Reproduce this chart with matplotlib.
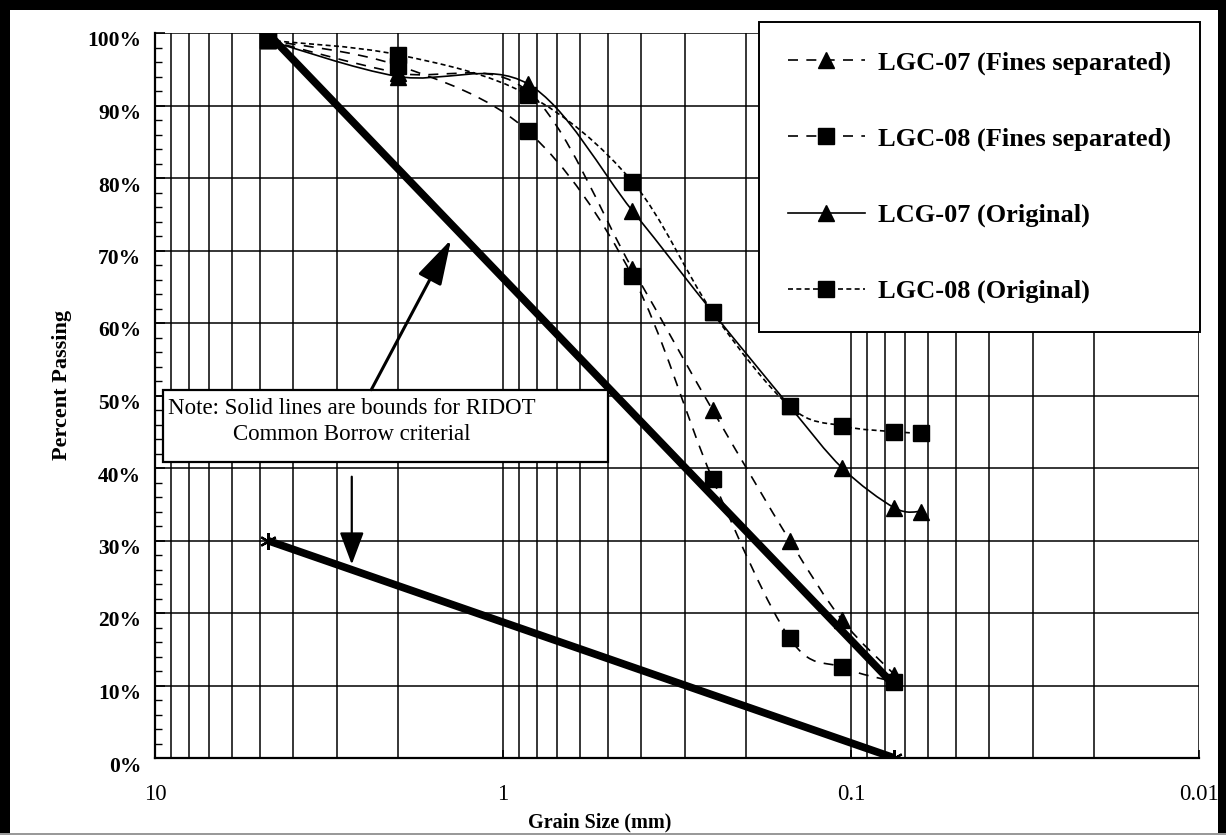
import numpy as np
import matplotlib
matplotlib.use("Agg")
import matplotlib.pyplot as plt
from matplotlib.path import Path
from matplotlib.patches import PathPatch, Rectangle, ArrowStyle
from matplotlib.lines import Line2D
from matplotlib.transforms import ScaledTranslation
from matplotlib.ticker import FixedLocator, FuncFormatter, MultipleLocator, PercentFormatter, NullFormatter

plt.rcParams['font.family'] = ['Liberation Serif', 'DejaVu Serif']

# Sieve openings (mm)
sieve_mm = [4.75, 2.0, 0.85, 0.425, 0.25, 0.15, 0.106, 0.075, 0.063]

# Percent passing for each sample
lgc07_fines = [99, 94.5, 92, 67.5, 48, 30, 19, 11.5]
lgc08_fines = [99, 95.5, 86.5, 66.5, 38.5, 16.5, 12.5, 10.5]
lcg07_orig = [99, 94, 93, 75.5, 61.5, 48.5, 40, 34.5, 34]
lgc08_orig = [99, 97, 91.5, 79.5, 61.5, 48.5, 45.8, 45, 44.8]

# RIDOT common borrow gradation bounds
bound_mm = [4.75, 0.075]
upper_bound = [100, 10]
lower_bound = [30, 0]

series_labels = ["LGC-07 (Fines separated)", "LGC-08 (Fines separated)",
                 "LCG-07 (Original)", "LGC-08 (Original)"]

x_ticks = [10, 1, 0.1, 0.01]
x_tick_labels = ["10", "1", "0.1", "0.01"]

note_text = "Note: Solid lines are bounds for RIDOT\nCommon Borrow criterial"


def smooth_path(xs, ys):
    """Bezier path through the points, smoothed like a spreadsheet chart line."""
    u = np.log10(np.asarray(xs, float))
    v = np.asarray(ys, float)
    n = len(u)
    verts = [(xs[0], ys[0])]
    codes = [Path.MOVETO]
    for i in range(n - 1):
        up, vp = (u[i - 1], v[i - 1]) if i > 0 else (u[i], v[i])
        un, vn = (u[i + 2], v[i + 2]) if i + 2 < n else (u[i + 1], v[i + 1])
        c1 = (u[i] + (u[i + 1] - up) / 6.0, v[i] + (v[i + 1] - vp) / 6.0)
        c2 = (u[i + 1] - (un - u[i]) / 6.0, v[i + 1] - (vn - v[i]) / 6.0)
        verts += [(10 ** c1[0], c1[1]), (10 ** c2[0], c2[1]), (xs[i + 1], ys[i + 1])]
        codes += [Path.CURVE4] * 3
    return Path(verts, codes)


W, H = 1226, 835
fig = plt.figure(figsize=(W / 100, H / 100), dpi=100)
fig.patch.set_facecolor('white')
ax = fig.add_axes([155 / W, 1 - 758 / H, (1199 - 155) / W, (758 - 33) / H])

ax.set_xscale('log')
ax.set_xlim(10, 0.01)
ax.set_ylim(0, 100)

# grid
ax.xaxis.set_major_locator(FixedLocator(x_ticks))
ax.xaxis.set_major_formatter(FuncFormatter(lambda v, p: x_tick_labels[x_ticks.index(v)] if v in x_ticks else ""))
ax.xaxis.set_minor_locator(FixedLocator([m * d for d in (1, 0.1, 0.01) for m in range(2, 10)]))
ax.xaxis.set_minor_formatter(NullFormatter())
ax.yaxis.set_major_locator(MultipleLocator(10))
ax.yaxis.set_minor_locator(MultipleLocator(2))
ax.yaxis.set_major_formatter(PercentFormatter(100, decimals=0))

ax.grid(True, which='both', axis='x', color='black', lw=1.1)
ax.grid(True, which='major', axis='y', color='black', lw=1.1)
ax.get_ygridlines()[-1].set_visible(False)

for s in ('top', 'right'):
    ax.spines[s].set_visible(False)
for s in ('left', 'bottom'):
    ax.spines[s].set_linewidth(1.6)

ax.tick_params(axis='x', which='major', direction='in', length=6, width=1.2, pad=19, labelsize=16.5)
ax.tick_params(axis='x', which='minor', length=0)
ax.tick_params(axis='y', which='major', direction='in', length=7, width=1.2, pad=10, labelsize=15.5)
ax.tick_params(axis='y', which='minor', direction='in', length=5, width=1.0)

# y labels sit slightly below their grid lines
shift = ScaledTranslation(0, -6 / 100, fig.dpi_scale_trans)
for lab in ax.get_yticklabels():
    lab.set_fontweight('bold')
    lab.set_transform(lab.get_transform() + shift)

dash = (0, (6, 5))
fine_dash = (0, (3, 2))
ms = 11

# sample curves
curves = [
    (sieve_mm[:len(lgc07_fines)], lgc07_fines, dash, '^'),
    (sieve_mm[:len(lgc08_fines)], lgc08_fines, dash, 's'),
    (sieve_mm, lcg07_orig, '-', '^'),
    (sieve_mm, lgc08_orig, fine_dash, 's'),
]
for xs, ys, ls, mk in curves:
    ax.add_patch(PathPatch(smooth_path(xs, ys), fill=False, edgecolor='black',
                           lw=1.2, linestyle=ls, zorder=3))
for xs, ys, ls, mk in curves:
    ax.plot(xs, ys, linestyle='none', marker=mk, ms=ms, color='black', zorder=4)

# bounds
ax.plot(bound_mm, upper_bound, color='black', lw=5.5, solid_capstyle='round', zorder=5)
ax.plot(bound_mm, lower_bound, color='black', lw=5.5, solid_capstyle='butt', zorder=5,
        marker=(6, 2, 0), ms=12, mew=1.6)

# note and arrows
ax.add_patch(Rectangle((0.499, 40.8), 9.48 - 0.499, 10.0, facecolor='white',
                       edgecolor='black', lw=1.6, zorder=6))
ax.text(9.15, 46.4, note_text, ha='left', va='center', multialignment='center',
        fontsize=16.5, linespacing=1.3, zorder=7)
ax.annotate('', xy=(1.41, 71.5), xytext=(2.39, 50.8),
            arrowprops=dict(arrowstyle=ArrowStyle('-|>', head_length=2.8, head_width=0.8),
                            mutation_scale=10, lw=2.2, color='black', shrinkA=0, shrinkB=0),
            zorder=7)
ax.annotate('', xy=(2.72, 26.7), xytext=(2.72, 38.8),
            arrowprops=dict(arrowstyle=ArrowStyle('-|>', head_length=2.0, head_width=0.75),
                            mutation_scale=10, lw=1.6, color='black', shrinkA=0, shrinkB=0),
            zorder=7)

# legend
handles = [
    Line2D([], [], color='black', lw=1.2, ls=dash, marker='^', ms=ms),
    Line2D([], [], color='black', lw=1.2, ls=dash, marker='s', ms=ms),
    Line2D([], [], color='black', lw=1.2, ls='-', marker='^', ms=ms),
    Line2D([], [], color='black', lw=1.2, ls=fine_dash, marker='s', ms=ms),
]
leg = ax.legend(handles, series_labels, loc='upper left',
                bbox_to_anchor=(759 / W, 1 - 22 / H), bbox_transform=fig.transFigure,
                prop={'family': 'Liberation Serif', 'weight': 'bold', 'size': 19},
                frameon=True, fancybox=False, edgecolor='black', framealpha=1,
                borderpad=1.1, labelspacing=1.98, handlelength=2.9, handletextpad=0.5,
                borderaxespad=0)
leg.get_frame().set_linewidth(1.4)
leg.set_zorder(8)

# axis titles
fig.text(600 / W, 1 - 822 / H, "Grain Size (mm)", ha='center', va='center',
         fontsize=14.5, fontweight='bold')
fig.text(62 / W, 1 - 385 / H, "Percent Passing", ha='center', va='center',
         rotation=90, fontsize=16, fontweight='bold')

# page frame
fig.patches.append(Rectangle((0, 0), 10 / W, 1, transform=fig.transFigure,
                             facecolor='black', edgecolor='none'))
fig.patches.append(Rectangle((0, 1 - 10 / H), 1, 10 / H, transform=fig.transFigure,
                             facecolor='black', edgecolor='none'))
fig.patches.append(Rectangle((1 - 8 / W, 0), 8 / W, 1, transform=fig.transFigure,
                             facecolor='black', edgecolor='none'))
fig.patches.append(Rectangle((0, 0), 1, 2 / H, transform=fig.transFigure,
                             facecolor='0.6', edgecolor='none'))

fig.savefig('out.png', dpi=100)
